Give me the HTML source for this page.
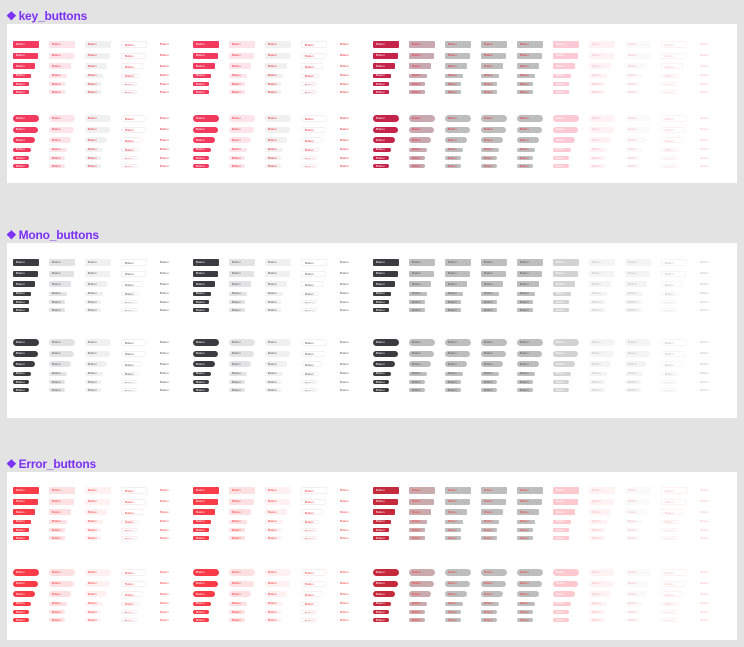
<!DOCTYPE html>
<html><head><meta charset="utf-8"><style>
*{margin:0;padding:0;box-sizing:border-box}
body{width:744px;height:647px;background:#e3e3e3;position:relative;overflow:hidden;font-family:"Liberation Sans",sans-serif}
.t{position:absolute;left:6px;font-size:12px;color:#7b2ff7;font-weight:bold;letter-spacing:-0.2px}
.t span{font-size:12px;margin-right:2px}
.p{position:absolute;left:7px;width:730px;background:#fff}
.g{position:absolute;left:13px;display:grid;grid-template-columns:repeat(20,36px);grid-template-rows:12px 11px 10px 9px 8px 8px;align-items:center}
.g i{display:block;font-style:normal;font-size:3px;line-height:1;color:#e23;padding-left:3px;overflow:hidden;white-space:nowrap;border-radius:1px}
.g i:nth-child(-n+20){width:26px;height:7px;padding-top:2px}
.g i:nth-child(n+21):nth-child(-n+40){width:25px;height:6px;padding-top:1.5px}
.g i:nth-child(n+41):nth-child(-n+60){width:22px;height:6px;padding-top:1.5px}
.g i:nth-child(n+61):nth-child(-n+80){width:18px;height:4px;padding-top:.5px}
.g i:nth-child(n+81){width:16px;height:4px;padding-top:.5px}
.r i{border-radius:4px}
.k i:nth-child(20n+1),.k i:nth-child(20n+6){background:#f23a5e;color:#fff}
.k i:nth-child(20n+2),.k i:nth-child(20n+7){background:#fde4ea}
.k i:nth-child(20n+3),.k i:nth-child(20n+8){background:#f0f0f0}
.k i:nth-child(20n+4),.k i:nth-child(20n+9){border:.5px solid #f8eef1}
.k i:nth-child(20n+11){background:#c4234a;color:#fff}
.k i:nth-child(20n+12){background:#c9a9b1}
.k i:nth-child(20n+13),.k i:nth-child(20n+14),.k i:nth-child(20n+15){background:#bdbdbd}
.k i:nth-child(20n+16){background:#fdc9d4;color:#fff}
.k i:nth-child(20n+17){background:#fef2f5;color:#f7b8c6}
.k i:nth-child(20n+18){background:#fafafa;color:#f7b8c6}
.k i:nth-child(20n+19){border:.5px solid #fdf1f4;color:#f7b8c6}
.k i:nth-child(20n+20){color:#f7b8c6}
.m i{color:#555}
.m i:nth-child(20n+1),.m i:nth-child(20n+6),.m i:nth-child(20n+11){background:#3b3b40;color:#fff}
.m i:nth-child(20n+2),.m i:nth-child(20n+7){background:#e3e3e6}
.m i:nth-child(20n+3),.m i:nth-child(20n+8){background:#f0f0f0}
.m i:nth-child(20n+4),.m i:nth-child(20n+9){border:.5px solid #f1f1f1}
.m i:nth-child(20n+12),.m i:nth-child(20n+13),.m i:nth-child(20n+14),.m i:nth-child(20n+15){background:#bdbdbd}
.m i:nth-child(20n+16){background:#d3d3d3;color:#fff}
.m i:nth-child(20n+17),.m i:nth-child(20n+18){background:#f4f4f4;color:#bbb}
.m i:nth-child(20n+19){border:.5px solid #f5f5f5;color:#bbb}
.m i:nth-child(20n+20){color:#bbb}
.e i{color:#f33}
.e i:nth-child(20n+1),.e i:nth-child(20n+6){background:#fa3c48;color:#fff}
.e i:nth-child(20n+2),.e i:nth-child(20n+7){background:#fde0e2}
.e i:nth-child(20n+3),.e i:nth-child(20n+8){background:#fff0f1}
.e i:nth-child(20n+4),.e i:nth-child(20n+9){border:.5px solid #f9eeef}
.e i:nth-child(20n+11){background:#c42a3c;color:#fff}
.e i:nth-child(20n+12){background:#c9abae}
.e i:nth-child(20n+13),.e i:nth-child(20n+14),.e i:nth-child(20n+15){background:#bdbdbd}
.e i:nth-child(20n+16){background:#fdc9ce;color:#fff}
.e i:nth-child(20n+17){background:#fef2f3;color:#f7b8be}
.e i:nth-child(20n+18){background:#fafafa;color:#f7b8be}
.e i:nth-child(20n+19){border:.5px solid #fdf1f2;color:#f7b8be}
.e i:nth-child(20n+20){color:#f7b8be}
</style></head><body>
<div class="t" style="top:9px"><span>❖</span>key_buttons</div>
<div class="p" style="top:24px;height:159px"></div>
<div class="t" style="top:228px"><span>❖</span>Mono_buttons</div>
<div class="p" style="top:243px;height:175px"></div>
<div class="t" style="top:457px"><span>❖</span>Error_buttons</div>
<div class="p" style="top:472px;height:168px"></div>

<div class="g k" style="top:38px" id="a"></div>
<div class="g k r" style="top:112px" id="b"></div>
<div class="g m" style="top:256px" id="c"></div>
<div class="g m r" style="top:336px" id="d"></div>
<div class="g e" style="top:484px" id="e"></div>
<div class="g e r" style="top:566px" id="f"></div>
<script>
var s="";for(var n=0;n<120;n++)s+="<i>Button</i>";
["a","b","c","d","e","f"].forEach(function(id){document.getElementById(id).innerHTML=s;});
</script>
</body></html>
